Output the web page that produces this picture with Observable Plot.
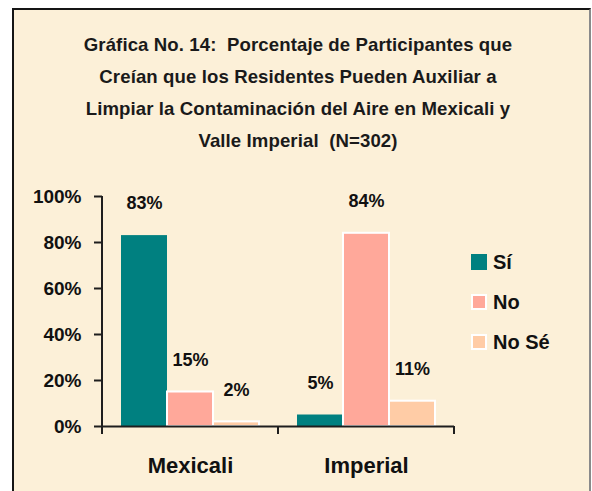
<!DOCTYPE html>
<html>
<head>
<meta charset="utf-8">
<script src="https://cdn.jsdelivr.net/npm/d3@7"></script>
<script src="https://cdn.jsdelivr.net/npm/@observablehq/plot@0.6"></script>
<style>
  html, body { margin: 0; padding: 0; background: #ffffff; }
  #wrap { position: relative; width: 592px; height: 491px; overflow: hidden; font-family: "Liberation Sans", Arial, sans-serif; }
  #panel { position: absolute; left: 12px; top: 8px; width: 575px; height: 490px;
           background: #FCF0D8; border-left: 2px solid #151515; border-top: 2px solid #151515; border-right: 2px solid #8a8a8a; }
  #title { position: absolute; left: 0; top: 29px; width: 596px; text-align: center; white-space: pre;
           font-size: 18.6px; letter-spacing: 0.1px; font-weight: bold; line-height: 32px; color: #1a1a1a; }
  #chart { position: absolute; left: 0; top: 170px; }
  #legend { position: absolute; left: 471px; top: 254px; }
  .row { position: absolute; left: 0; height: 16px; white-space: nowrap; }
  .sw { position: absolute; left: 0; top: 0; width: 16px; height: 16px; box-sizing: border-box; }
  .lab { position: absolute; left: 22px; top: -5px; font-size: 20px; font-weight: bold; line-height: 26px; color: #111; }
</style>
</head>
<body>
<div id="wrap">
  <div id="panel"></div>
  <div id="title"></div>
  <div id="chart"></div>
  <div id="legend"></div>
</div>
<script>
const titleLines = [
  "Gráfica No. 14:  Porcentaje de Participantes que",
  "Creían que los Residentes Pueden Auxiliar a",
  "Limpiar la Contaminación del Aire en Mexicali y",
  "Valle Imperial  (N=302)"
];
const categories = ["Mexicali", "Imperial"];
const series = ["Sí", "No", "No Sé"];
const mexicaliValues = [83, 15, 2];
const imperialValues = [5, 84, 11];
const seriesColors = ["#008080", "#FFA89A", "#FFCCA6"];
const yTicks = [0, 20, 40, 60, 80, 100];

const valuesByCategory = {Mexicali: mexicaliValues, Imperial: imperialValues};
const data = [];
categories.forEach(c => series.forEach((s, i) => data.push({category: c, series: s, value: valuesByCategory[c][i]})));

document.getElementById("title").textContent = titleLines.join("\n");

const axisColor = "#1e1e1e";
const plot = Plot.plot({
  width: 592,
  height: 321,
  marginLeft: 102,
  marginRight: 138,
  marginTop: 26,
  marginBottom: 65,
  style: {background: "transparent", fontFamily: "'Liberation Sans', Arial, sans-serif", color: "#111", overflow: "visible"},
  fx: {domain: categories, padding: 0, label: null, axis: null},
  x: {domain: series, paddingInner: 0, paddingOuter: 0.41, axis: null},
  y: {domain: [0, 100], label: null, axis: null},
  color: {domain: series, range: seriesColors},
  marks: [
    Plot.barY(data, {fx: "category", x: "series", y: "value", fill: "series",
      stroke: d => d.series === series[0] ? "none" : "white", strokeWidth: 2}),
    Plot.text(data, {fx: "category", x: "series", y: "value", text: d => d.value + "%",
      dy: -32, fontSize: 18, fontWeight: "bold", fill: "#111"}),
    Plot.ruleY([0], {stroke: axisColor, strokeWidth: 2}),
    Plot.axisY({ticks: yTicks, tickFormat: d => d + "%", tickSize: 8, tickPadding: 13,
      fontSize: 19, fontWeight: "bold", stroke: axisColor, strokeWidth: 2, label: null}),
    Plot.axisFx({anchor: "bottom", tickSize: 0, tickPadding: 31, fontSize: 22, fontWeight: "bold", label: null})
  ]
});

// axis line and category-boundary ticks, placed from the plot's own scales
const fx = plot.scale("fx");
const y = plot.scale("y");
const bounds = categories.map(c => fx.apply(c)).concat([fx.apply(categories[categories.length - 1]) + fx.bandwidth]);
const g = d3.select(plot).append("g").attr("stroke", axisColor).attr("stroke-width", 2);
g.append("line").attr("x1", bounds[0]).attr("x2", bounds[0]).attr("y1", y.apply(100)).attr("y2", y.apply(0) + 8);
bounds.forEach(b => g.append("line").attr("x1", b).attr("x2", b).attr("y1", y.apply(0)).attr("y2", y.apply(0) + 8));

document.getElementById("chart").appendChild(plot);

// legend
const legend = document.getElementById("legend");
series.forEach((s, i) => {
  const row = document.createElement("div");
  row.className = "row";
  row.style.top = (i * 40) + "px";
  const sw = document.createElement("div");
  sw.className = "sw";
  sw.style.background = seriesColors[i];
  if (i > 0) sw.style.border = "2px solid white";
  const lab = document.createElement("div");
  lab.className = "lab";
  lab.textContent = s;
  row.appendChild(sw); row.appendChild(lab);
  legend.appendChild(row);
});
</script>
</body>
</html>
